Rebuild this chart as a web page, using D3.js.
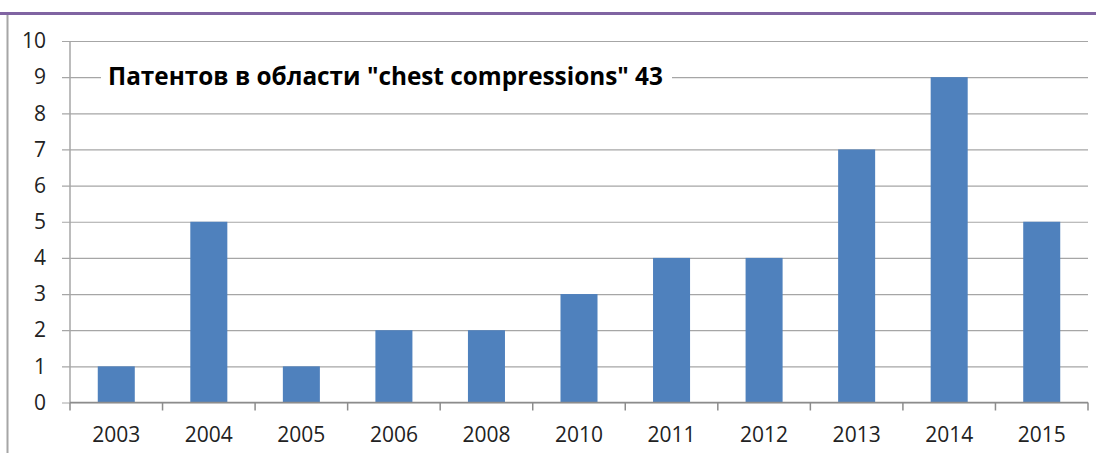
<!DOCTYPE html>
<html>
<head>
<meta charset="utf-8">
<script src="https://cdn.jsdelivr.net/npm/d3@7"></script>
<style>
  body { margin: 0; background: #fff; }
  svg { display: block; }
  .tick text { font-family: "Open Sans", "Noto Sans", sans-serif; font-size: 21px; fill: #222; }
</style>
</head>
<body>
<script>
// chart data
const years = ["2003", "2004", "2005", "2006", "2008", "2010", "2011", "2012", "2013", "2014", "2015"];
const patents = [1, 5, 1, 2, 2, 3, 4, 4, 7, 9, 5];
const yTicks = [0, 1, 2, 3, 4, 5, 6, 7, 8, 9, 10];
const titleText = 'Патентов в области "chest compressions" 43';

const width = 1096, height = 453;
const margin = { left: 70, right: 8, top: 41, bottom: 50.5 };

const svg = d3.select("body").append("svg")
    .attr("width", width)
    .attr("height", height);

// frame decoration: purple line on top, gray line on the left
svg.append("line")
    .attr("x1", 0).attr("x2", width)
    .attr("y1", 13.5).attr("y2", 13.5)
    .attr("stroke", "#8064a2")
    .attr("stroke-width", 3);
svg.append("line")
    .attr("x1", 7.5).attr("x2", 7.5)
    .attr("y1", 15).attr("y2", height)
    .attr("stroke", "#a6a6a6")
    .attr("stroke-width", 2);

const x = d3.scaleBand()
    .domain(years)
    .range([margin.left, width - margin.right])
    .paddingInner(0.6)
    .paddingOuter(0.3);

const y = d3.scaleLinear()
    .domain([0, 10])
    .range([height - margin.bottom, margin.top]);

// gridlines + y labels
const yAxis = svg.append("g")
    .attr("transform", `translate(${margin.left},0)`)
    .call(d3.axisLeft(y)
        .tickValues(yTicks)
        .tickSize(-(width - margin.right - margin.left))
        .tickPadding(24)
        .tickFormat(d3.format("d")));
yAxis.select(".domain").remove();
yAxis.selectAll(".tick line")
    .attr("x1", -8)
    .attr("stroke", "#a6a6a6")
    .attr("stroke-width", 1.2);

// vertical axis line
svg.append("line")
    .attr("x1", margin.left).attr("x2", margin.left)
    .attr("y1", y(10)).attr("y2", y(0))
    .attr("stroke", "#a6a6a6")
    .attr("stroke-width", 1.5);

// bars
svg.selectAll(".bar")
    .data(patents)
    .enter()
    .append("rect")
    .attr("class", "bar")
    .attr("x", (d, i) => x(years[i]))
    .attr("y", d => y(d))
    .attr("width", x.bandwidth())
    .attr("height", d => y(0) - y(d))
    .attr("fill", "#4f81bd");

// x axis with ticks between categories
const xAxis = svg.append("g")
    .attr("transform", `translate(0,${y(0)})`)
    .call(d3.axisBottom(x).tickSize(0).tickPadding(25));
xAxis.select(".domain")
    .attr("d", `M${margin.left},0H${width - margin.right}`)
    .attr("stroke", "#8c8c8c")
    .attr("stroke-width", 1.5);

const bounds = d3.range(years.length + 1).map(i => margin.left + i * (width - margin.right - margin.left) / years.length);
xAxis.selectAll(".sep")
    .data(bounds)
    .enter()
    .append("line")
    .attr("class", "sep")
    .attr("x1", d => d).attr("x2", d => d)
    .attr("y1", 0).attr("y2", 8)
    .attr("stroke", "#8c8c8c")
    .attr("stroke-width", 1.5);

// title box with white background over the gridline
const title = svg.append("g");
const titleBg = title.append("rect").attr("fill", "#fff");
const t = title.append("text")
    .attr("x", 108)
    .attr("y", y(9) + 7.5)
    .attr("font-family", "'Open Sans', 'Noto Sans', sans-serif")
    .attr("font-weight", "bold")
    .attr("font-size", 22)
    .attr("fill", "#000")
    .text(titleText);
// fit the title to the width seen in the picture
const len = t.node().getComputedTextLength();
t.attr("font-size", 22 * 555 / len);
titleBg
    .attr("x", 101).attr("y", y(9) - 14)
    .attr("width", 571).attr("height", 28);
</script>
</body>
</html>
